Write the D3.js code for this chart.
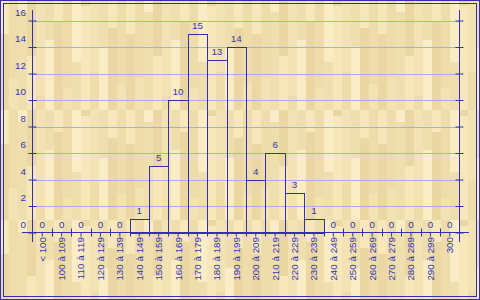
<!DOCTYPE html>
<html>
<head>
<meta charset="utf-8">
<script src="https://cdn.jsdelivr.net/npm/d3@7"></script>
<style>
  html, body { margin: 0; padding: 0; background: #ffffff; }
  svg { display: block; }
  text { font-family: "Liberation Sans", Arial, sans-serif; }
</style>
</head>
<body>
<svg id="chart" width="480" height="300"></svg>
<script>
// ---- data ----
const categories = ["< 100", "100 à 109", "110 à 119", "120 à 129", "130 à 139", "140 à 149",
  "150 à 159", "160 à 169", "170 à 179", "180 à 189", "190 à 199", "200 à 209", "210 à 219",
  "220 à 229", "230 à 239", "240 à 249", "250 à 259", "260 à 269", "270 à 279", "280 à 289",
  "290 à 299", "300"];
const counts = [0, 0, 0, 0, 0, 1, 5, 10, 15, 13, 14, 4, 6, 3, 1, 0, 0, 0, 0, 0, 0, 0];
const yTicks = [0, 2, 4, 6, 8, 10, 12, 14, 16];

// ---- styling ----
const W = 480, H = 300;
const blue = "#3030b0";
const textBlue = "#3535b0";
const gridCol = "#a8aee4";
const fontSize = 9.8;

const svg = d3.select("#chart");

// wood parquet background (decorative pattern)
const plankBreaks = [34, 78, 12, 56, 96, 40, 22, 88, 62, 6, 72, 48, 28, 84];
const plankShades = ["#f7e7bb", "#eedcaa", "#faedc6", "#ebd7a3", "#f3e2b3", "#efdeae"];
const defs = svg.append("defs");
const pat = defs.append("pattern").attr("id", "wood").attr("patternUnits", "userSpaceOnUse")
  .attr("width", 126).attr("height", 110);
plankBreaks.forEach((b, i) => {
  pat.append("rect").attr("x", i * 9).attr("y", 0).attr("width", 9).attr("height", b)
    .attr("fill", plankShades[i % plankShades.length]);
  pat.append("rect").attr("x", i * 9).attr("y", b).attr("width", 9).attr("height", 110 - b)
    .attr("fill", plankShades[(i + 3) % plankShades.length]);
});
svg.append("rect").attr("x", 0).attr("y", 0).attr("width", W).attr("height", H).attr("fill", "url(#wood)");

// double frame
svg.append("rect").attr("x", 0.5).attr("y", 0.5).attr("width", W - 1).attr("height", H - 1)
  .attr("fill", "none").attr("stroke", blue);
svg.append("rect").attr("x", 3.5).attr("y", 3.5).attr("width", W - 7).attr("height", H - 7)
  .attr("fill", "none").attr("stroke", blue);

// ---- scales ----
const x = d3.scaleBand().domain(categories).range([32.5, 459.5]).padding(0);
const y = d3.scaleLinear().domain([0, 16]).range([232.5, 20.5]);

// grid lines
svg.append("g").selectAll("line").data(yTicks.filter(v => v > 0)).join("line")
  .attr("x1", 32.5).attr("x2", 459.5)
  .attr("y1", d => Math.round(y(d)) + 0.5).attr("y2", d => Math.round(y(d)) + 0.5)
  .attr("stroke", gridCol).attr("stroke-width", 1);

// bars
svg.append("g").selectAll("rect").data(categories).join("rect")
  .attr("x", d => Math.round(x(d)) + 0.5)
  .attr("width", (d, i) => Math.round(x(d) + x.bandwidth()) - Math.round(x(d)))
  .attr("y", (d, i) => Math.round(y(counts[i])) + 0.5)
  .attr("height", (d, i) => Math.round(y(0)) - Math.round(y(counts[i])))
  .attr("fill", "none").attr("stroke", blue).attr("stroke-width", 1)
  .style("display", (d, i) => counts[i] > 0 ? null : "none");

// value labels
svg.append("g").selectAll("text").data(categories).join("text")
  .attr("x", d => x(d) + x.bandwidth() / 2)
  .attr("y", (d, i) => y(counts[i]) - 5)
  .attr("text-anchor", "middle").attr("font-size", fontSize).attr("fill", textBlue)
  .text((d, i) => counts[i]);

// y axis (left)
const yAxisL = svg.append("g").attr("transform", "translate(32.5,0)")
  .call(d3.axisLeft(y).tickValues(yTicks).tickFormat(d3.format("d")).tickSizeInner(4).tickSizeOuter(0));
yAxisL.select(".domain").remove();
yAxisL.selectAll(".tick line").attr("x1", -4).attr("x2", 4).attr("stroke", blue);
yAxisL.selectAll(".tick text").attr("x", -6.5).attr("dy", "-0.55em")
  .attr("font-size", fontSize).attr("fill", textBlue).attr("font-family", null);
svg.append("line").attr("x1", 32.5).attr("x2", 32.5).attr("y1", 10).attr("y2", 242).attr("stroke", blue);

// y axis (right)
const yAxisR = svg.append("g").attr("transform", "translate(459.5,0)")
  .call(d3.axisRight(y).tickValues(yTicks).tickFormat("").tickSizeInner(4).tickSizeOuter(0));
yAxisR.select(".domain").remove();
yAxisR.selectAll(".tick line").attr("x1", -4).attr("x2", 4).attr("stroke", blue);
svg.append("line").attr("x1", 459.5).attr("x2", 459.5).attr("y1", 10).attr("y2", 242).attr("stroke", blue);

// x axis
const xAxis = svg.append("g").attr("transform", "translate(0,232.5)")
  .call(d3.axisBottom(x).tickSizeInner(4).tickSizeOuter(0).tickPadding(5));
xAxis.select(".domain").remove();
xAxis.selectAll(".tick line").attr("stroke", blue);
xAxis.selectAll(".tick text")
  .attr("transform", "rotate(-90)")
  .attr("x", -4.5).attr("y", 0).attr("dy", "0.35em")
  .attr("text-anchor", "end").attr("font-size", fontSize).attr("fill", textBlue).attr("font-family", null);
svg.append("line").attr("x1", 22).attr("x2", 469).attr("y1", 232.5).attr("y2", 232.5).attr("stroke", blue);
// boundary ticks between categories
svg.append("g").selectAll("line").data(categories.slice(1)).join("line")
  .attr("x1", d => Math.round(x(d)) + 0.5).attr("x2", d => Math.round(x(d)) + 0.5)
  .attr("y1", 228.5).attr("y2", 236.5).attr("stroke", blue);
</script>
</body>
</html>
